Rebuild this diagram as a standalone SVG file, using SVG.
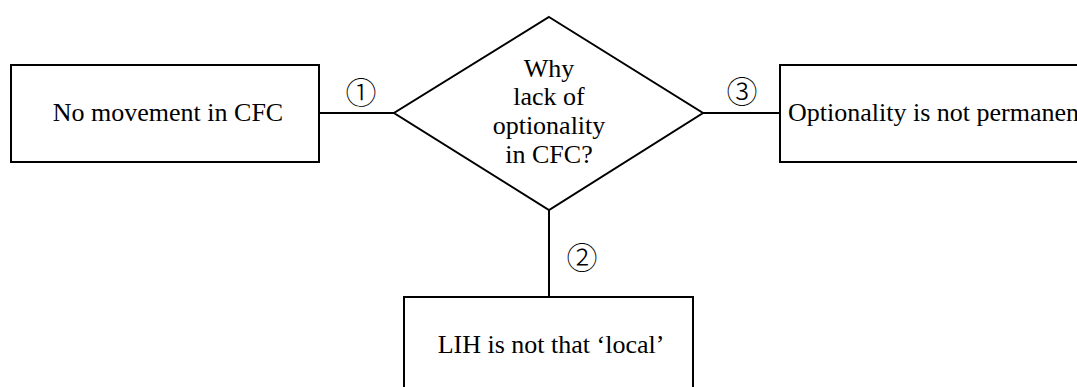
<svg xmlns="http://www.w3.org/2000/svg" width="1077" height="387" viewBox="0 0 1077 387">
<style>
.shape{fill:#fff;stroke:#000;stroke-width:2}
.conn{stroke:#000;stroke-width:2;fill:none}
.t{font-family:"Liberation Serif","Times New Roman",serif;font-size:26px;fill:#000;text-anchor:middle}
.tl{font-family:"Liberation Serif","Times New Roman",serif;font-size:26px;fill:#000}
.num{font-family:"Noto Sans CJK JP","DejaVu Sans",sans-serif;font-size:31px;font-weight:300;fill:#000;text-anchor:middle;dominant-baseline:central}
</style>
<rect width="1077" height="387" fill="#fff"/>
<g id="connectors">
<line class="conn" x1="319" y1="113" x2="394" y2="113"/>
<line class="conn" x1="703" y1="113" x2="780" y2="113"/>
<line class="conn" x1="549" y1="210" x2="549" y2="297"/>
<text class="num" x="361" y="90">①</text>
<text class="num" x="742" y="89">③</text>
<text class="num" x="582" y="255">②</text>
</g>
<g id="node-no-movement">
<rect class="shape" x="11" y="65" width="308" height="97"/>
<text class="t" x="168" y="121">No movement in CFC</text>
</g>
<g id="node-why">
<polygon class="shape" points="549,17 703,113 549,210 394,113"/>
<text class="t" x="549" y="77">Why</text>
<text class="t" x="549" y="105">lack of</text>
<text class="t" x="549" y="134">optionality</text>
<text class="t" x="549" y="163">in CFC?</text>
</g>
<g id="node-optionality">
<rect class="shape" x="780" y="65" width="320" height="97"/>
<text class="tl" x="788" y="121">Optionality is not permanent</text>
</g>
<g id="node-lih">
<rect class="shape" x="404" y="297" width="289" height="110"/>
<text class="t" x="551" y="353">LIH is not that ‘local’</text>
</g>
</svg>
